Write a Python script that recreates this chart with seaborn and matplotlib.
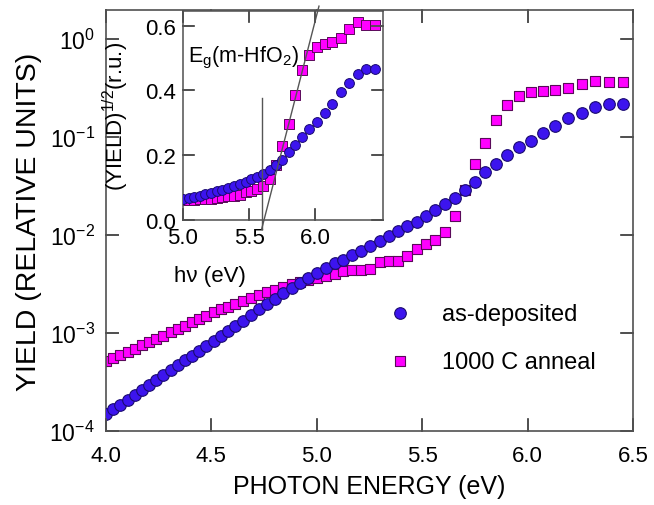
import matplotlib
matplotlib.use("Agg")
import matplotlib.pyplot as plt
from matplotlib.lines import Line2D
import seaborn as sns
import numpy as np
import pandas as pd

# ---------------- data ----------------
energy = [4.000, 4.034, 4.068, 4.102, 4.136, 4.170, 4.204, 4.238, 4.272, 4.306,
          4.340, 4.374, 4.408, 4.442, 4.476, 4.510, 4.544, 4.578, 4.612, 4.648,
          4.686, 4.724, 4.762, 4.800, 4.840, 4.880, 4.920, 4.960, 5.000, 5.042,
          5.084, 5.126, 5.168, 5.210, 5.254, 5.298, 5.342, 5.386, 5.430, 5.474,
          5.518, 5.562, 5.608, 5.656, 5.704, 5.752, 5.800, 5.852, 5.904, 5.958,
          6.014, 6.072, 6.132, 6.194, 6.258, 6.322, 6.388, 6.452]

yield_as_deposited = [1.48e-4, 1.66e-4, 1.86e-4, 2.09e-4, 2.34e-4, 2.63e-4, 2.95e-4, 3.31e-4, 3.72e-4, 4.17e-4,
                      4.68e-4, 5.25e-4, 5.89e-4, 6.61e-4, 7.41e-4, 8.32e-4, 9.33e-4, 1.05e-3, 1.17e-3, 1.32e-3,
                      1.51e-3, 1.74e-3, 2.00e-3, 2.24e-3, 2.57e-3, 2.88e-3, 3.24e-3, 3.63e-3, 4.07e-3, 4.57e-3,
                      5.13e-3, 5.62e-3, 6.31e-3, 6.92e-3, 7.76e-3, 8.71e-3, 9.77e-3, 1.10e-2, 1.23e-2, 1.37e-2,
                      1.58e-2, 1.80e-2, 2.05e-2, 2.38e-2, 2.85e-2, 3.47e-2, 4.37e-2, 5.37e-2, 6.61e-2, 7.94e-2,
                      9.12e-2, 0.110, 0.129, 0.155, 0.178, 0.204, 0.216, 0.216]

yield_anneal = [5.13e-4, 5.50e-4, 6.03e-4, 6.46e-4, 6.92e-4, 7.59e-4, 8.13e-4, 8.71e-4, 9.33e-4, 1.02e-3,
                1.10e-3, 1.17e-3, 1.29e-3, 1.38e-3, 1.48e-3, 1.62e-3, 1.74e-3, 1.86e-3, 2.00e-3, 2.14e-3,
                2.29e-3, 2.45e-3, 2.63e-3, 2.75e-3, 2.95e-3, 3.16e-3, 3.31e-3, 3.47e-3, 3.63e-3, 3.80e-3,
                3.98e-3, 4.27e-3, 4.37e-3, 4.37e-3, 4.47e-3, 5.25e-3, 5.37e-3, 5.43e-3, 6.17e-3, 7.24e-3,
                8.13e-3, 8.91e-3, 1.07e-2, 1.58e-2, 2.88e-2, 5.25e-2, 8.71e-2, 0.148, 0.214, 0.260,
                0.285, 0.295, 0.302, 0.316, 0.347, 0.372, 0.363, 0.363]

series_labels = ["as-deposited", "1000 C anneal"]
x_ticks = [4.0, 4.5, 5.0, 5.5, 6.0, 6.5]
y_ticks = [1e-4, 1e-3, 1e-2, 1e-1, 1e0]
inset_x_ticks = [5.0, 5.5, 6.0]
inset_y_ticks = [0.0, 0.2, 0.4, 0.6]
inset_x_min = 5.0
gap_vline = ([5.6, 5.6], [-0.028, 0.378])
gap_fit = ([5.596, 6.03], [-0.028, 0.66])

# ---------------- style ----------------
spine_col = "#505050"
plt.rcParams.update({
    "font.family": ["Liberation Sans", "DejaVu Sans"],
    "mathtext.fontset": "custom",
    "mathtext.rm": "Liberation Sans",
    "mathtext.it": "Liberation Sans:italic",
    "mathtext.default": "regular",
    "axes.unicode_minus": False,
    "text.color": "black",
    "axes.labelcolor": "black",
    "xtick.labelcolor": "black",
    "ytick.labelcolor": "black",
    "axes.edgecolor": spine_col,
    "axes.linewidth": 1.2,
    "axes.grid": False,
})

blue_face, blue_edge = "#3c14ee", "#1a0a70"
pink_face, pink_edge = "#ff00ff", "#5a0a5a"


def inward_ticks(axis, xt, yt, len_px, ax_w_px, ax_h_px):
    """Short inward tick segments on all four sides (lengths in axes fraction)."""
    fx = len_px / ax_h_px
    fy = len_px / ax_w_px
    tx = axis.get_xaxis_transform()
    ty = axis.get_yaxis_transform()
    for v in xt:
        for lo, hi in ((0, fx), (1 - fx, 1)):
            axis.add_line(Line2D([v, v], [lo, hi], transform=tx, color=spine_col,
                                 lw=1.3, clip_on=False, zorder=7))
    for v in yt:
        for lo, hi in ((0, fy), (1 - fy, 1)):
            axis.add_line(Line2D([lo, hi], [v, v], transform=ty, color=spine_col,
                                 lw=1.3, clip_on=False, zorder=7))


df = pd.DataFrame({"energy": energy,
                   "as": yield_as_deposited,
                   "an": yield_anneal})

fig = plt.figure(figsize=(6.54, 5.06), dpi=100)
ax = fig.add_axes([106 / 654, 1 - 432 / 506, 527 / 654, 421 / 506])

sns.scatterplot(data=df, x="energy", y="as", ax=ax, marker="o", s=70,
                color=blue_face, edgecolor=blue_edge, linewidth=0.8,
                label=series_labels[0], zorder=3)
sns.scatterplot(data=df, x="energy", y="an", ax=ax, marker="s", s=56,
                color=pink_face, edgecolor=pink_edge, linewidth=0.8,
                label=series_labels[1], zorder=2)

ax.set_yscale("log")
ax.set_xlim(4.0, 6.5)
ax.set_ylim(1e-4, 1.98)
ax.set_xticks(x_ticks)
ax.set_xticklabels([f"{v:.1f}" for v in x_ticks])
ax.set_yticks(y_ticks)
ax.set_yticklabels([r"$10^{%d}$" % int(np.log10(v)) for v in y_ticks])
ax.yaxis.set_minor_locator(matplotlib.ticker.NullLocator())
ax.xaxis.set_minor_locator(matplotlib.ticker.NullLocator())
ax.tick_params(axis="x", direction="in", length=9, width=1.2, color=spine_col,
               labelsize=16, pad=10, top=True, bottom=True)
ax.tick_params(axis="y", direction="in", length=9, width=1.2, color=spine_col,
               labelsize=16.5, pad=8, left=True, right=True)
inward_ticks(ax, x_ticks, y_ticks, 12, 527, 421)
ax.set_xlabel("PHOTON ENERGY (eV)", fontsize=18, labelpad=6)
ax.set_ylabel("YIELD (RELATIVE UNITS)", fontsize=20.5, labelpad=5)

ax.legend(loc="center left", bbox_to_anchor=(0.495, 0.222), frameon=False,
          fontsize=17, labelspacing=1.1, handletextpad=0.8,
          handlelength=2.0, borderaxespad=0.0)

# ---------------- inset ----------------
axi = fig.add_axes([183 / 654, 1 - 221 / 506, 200 / 654, 209 / 506])
axi.set_facecolor("white")
di = df[df["energy"] >= inset_x_min]
di = di.assign(sa=np.sqrt(di["as"]), sn=np.sqrt(di["an"]))
sns.scatterplot(data=di, x="energy", y="sa", ax=axi, marker="o", s=50,
                color=blue_face, edgecolor=blue_edge, linewidth=0.7, zorder=3)
sns.scatterplot(data=di, x="energy", y="sn", ax=axi, marker="s", s=44,
                color=pink_face, edgecolor=pink_edge, linewidth=0.7, zorder=2)
axi.plot(gap_vline[0], gap_vline[1], color="#555555", lw=1.0, clip_on=False, zorder=4)
axi.plot(gap_fit[0], gap_fit[1], color="#555555", lw=1.0, clip_on=False, zorder=4)

axi.set_xlim(5.0, 6.515)
axi.set_ylim(0.0, 0.645)
axi.set_xticks(inset_x_ticks)
axi.set_xticklabels([f"{v:.1f}" for v in inset_x_ticks])
axi.set_yticks(inset_y_ticks)
axi.set_yticklabels([f"{v:.1f}" for v in inset_y_ticks])
axi.tick_params(direction="in", length=8, width=1.2, color=spine_col,
                labelsize=16, pad=5, top=True, bottom=True, left=True, right=True)
inward_ticks(axi, inset_x_ticks, inset_y_ticks, 11, 200, 209)
for sp in axi.spines.values():
    sp.set_linewidth(1.1)
axi.set_xlabel("hν (eV)", fontsize=16)
axi.xaxis.set_label_coords(0.135, -0.215)
axi.set_ylabel(r"(YIELD)$^{1/2}$(r.u.)", fontsize=16)
axi.yaxis.set_label_coords(-0.26, 0.5)
axi.text(5.035, 0.49, r"E$_\mathrm{g}$(m-HfO$_2$)", fontsize=15.5,
         ha="left", va="baseline", zorder=5)

fig.savefig("out.png", dpi=100)
